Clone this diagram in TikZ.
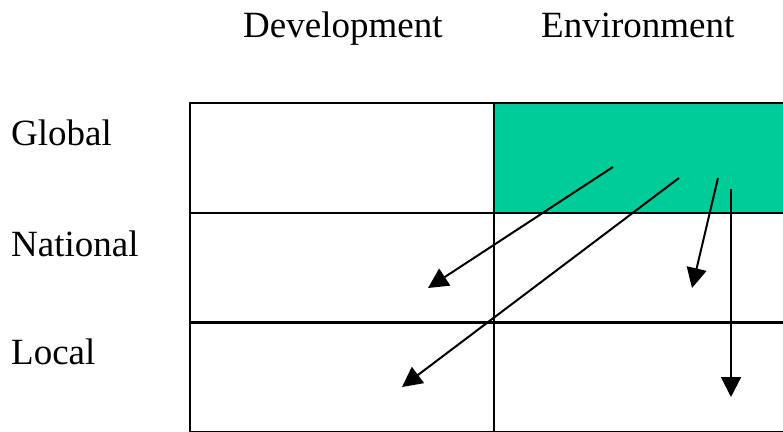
\documentclass[tikz,border=0pt]{standalone}
\usepackage{fontspec}
\setmainfont{Liberation Serif}
\usetikzlibrary{arrows.meta,positioning}
\definecolor{envgreen}{RGB}{0,204,153}

\begin{document}
\begin{tikzpicture}[x=1pt,y=-1pt,
    cell/.style={rectangle, draw, line width=2.2pt, minimum height=110pt, inner sep=0pt, anchor=north west},
    devcell/.style={cell, minimum width=304pt},
    envcell/.style={cell, minimum width=300pt},
    label/.style={anchor=base west, inner sep=0pt, font=\fontsize{37}{44}\selectfont},
    arrow/.style={-{Triangle[length=20pt,width=20pt]}, line width=2pt},
    ]
    \useasboundingbox (0,0) rectangle (783,431);

    % Column headings
    \node [label] (dev) at (243,37) {Development};
    \node [label] (env) at (541,37) {Environment};

    % Row headings
    \node [label] (global) at (11,145) {Global};
    \node [label] (national) at (11,256) {National};
    \node [label] (local) at (11,364) {Local};

    % Grid of cells
    \node [devcell] (gdev) at (189,101.5) {};
    \node [envcell, fill=envgreen] (genv) at (493,101.5) {};
    \node [devcell] (ndev) at (189,211.5) {};
    \node [envcell] (nenv) at (493,211.5) {};
    \node [devcell] (ldev) at (189,321) {};
    \node [envcell] (lenv) at (493,321) {};

    % Start and end points of the arrows
    \coordinate (s1) at (613,167);
    \coordinate (e1) at (428,288);
    \coordinate (s2) at (679,178);
    \coordinate (e2) at (402,387);
    \coordinate (s3) at (718,178);
    \coordinate (e3) at (692,288);
    \coordinate (s4) at (731,189);
    \coordinate (e4) at (731,397);

    % Arrows out of the green cell
    \draw [arrow] (s1) -- (e1);
    \draw [arrow] (s2) -- (e2);
    \draw [arrow] (s3) -- (e3);
    \draw [arrow] (s4) -- (e4);

\end{tikzpicture}
\end{document}
